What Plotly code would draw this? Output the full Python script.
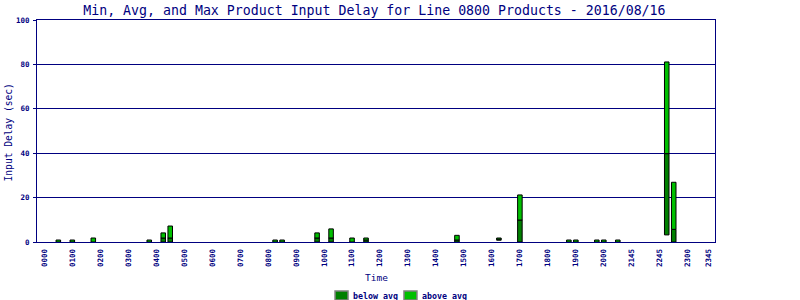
import plotly.graph_objects as go

# slot index (15-minute slots across the day) for each bar
slots = [2, 4, 7, 15, 17, 18, 33, 34, 39, 41, 44, 46, 59, 65, 68, 75, 76, 79, 80, 82, 89, 90]
min_vals = [0, 0, 0, 0, 0, 0, 0, 0, 0, 0, 0, 0, 0, 0.8, 0, 0, 0, 0, 0, 0, 3.2, 0]
avg_vals = [0, 0, 0, 0, 1.8, 1.8, 0, 0, 1.8, 1.8, 0, 0.9, 0.9, 1.3, 9.9, 0, 0, 0, 0, 0, 39.8, 5.7]
max_vals = [0.9, 0.9, 1.8, 0.9, 4.1, 7.2, 0.9, 0.9, 4.1, 5.9, 1.8, 1.8, 3.0, 1.8, 21.2, 0.9, 0.9, 0.9, 0.9, 0.9, 81.1, 26.9]

tick_slots = [0, 4, 8, 12, 16, 20, 24, 28, 32, 36, 40, 44, 48, 52, 56, 60, 64, 68, 72, 76, 80, 84, 88, 92, 95]
tick_labels = ["0000", "0100", "0200", "0300", "0400", "0500", "0600", "0700", "0800", "0900",
               "1000", "1100", "1200", "1300", "1400", "1500", "1600", "1700", "1800", "1900",
               "2000", "2145", "2245", "2300", "2345"]
y_ticks = [0, 20, 40, 60, 80, 100]
series_names = ["below avg", "above avg"]

NAVY = "#000080"
DARK = "#008000"
LIGHT = "#00C000"
MONO = "DejaVu Sans Mono"

below = [a - m for a, m in zip(avg_vals, min_vals)]
above = [mx - a for mx, a in zip(max_vals, avg_vals)]

fig = go.Figure()
fig.add_trace(go.Bar(x=slots, y=below, base=min_vals, width=0.65, name=series_names[0],
                     marker=dict(color=DARK, line=dict(color="black", width=1)),
                     showlegend=False, hoverinfo="skip"))
fig.add_trace(go.Bar(x=slots, y=above, base=avg_vals, width=0.65, name=series_names[1],
                     marker=dict(color=LIGHT, line=dict(color="black", width=1)),
                     showlegend=False, hoverinfo="skip"))

# plot-area pixel geometry -> paper coords helper (for legend layout)
L, R, T, B = 36.7, 715.3, 20, 242
def px(x):
    return (x - L) / (R - L)
def py(y):
    return (B - y) / (B - T)

shapes = []
annotations = [
    dict(text="Time", xref="paper", yref="paper", x=0.5, y=py(277),
         xanchor="center", yanchor="middle", showarrow=False,
         font=dict(family=MONO, size=9.5, color=NAVY)),
    dict(text="Input Delay (sec)", xref="paper", yref="paper", x=px(8),
         y=0.495, xanchor="center", yanchor="middle", textangle=-90, showarrow=False,
         font=dict(family=MONO, size=9.6, color=NAVY)),
]
# legend
legend_x = [335, 404]
for name, col, lx in zip(series_names, [DARK, LIGHT], legend_x):
    shapes.append(dict(type="rect", xref="paper", yref="paper",
                       x0=px(lx), x1=px(lx + 13), y0=py(291), y1=py(300),
                       fillcolor=col, line=dict(color="#808080", width=1.5)))
    annotations.append(dict(text=name, xref="paper", yref="paper", x=px(lx + 16), y=py(295.5),
                            xanchor="left", yanchor="middle", showarrow=False,
                            font=dict(family=MONO, size=8.3, color=NAVY, weight="bold")))

fig.update_layout(
    width=800, height=300,
    margin=dict(l=L, r=800 - R, t=T, b=300 - B, autoexpand=False),
    paper_bgcolor="white", plot_bgcolor="white",
    barmode="overlay", showlegend=False,
    title=dict(text="Min, Avg, and Max Product Input Delay for Line 0800 Products - 2016/08/16",
               font=dict(family=MONO, size=13.25, color=NAVY),
               x=0.468, xanchor="center", y=1 - 10 / 300, yanchor="middle"),
    xaxis=dict(range=[-1.05, 95.9], tickmode="array", tickvals=tick_slots, ticktext=tick_labels,
               tickangle=-90, tickfont=dict(family=MONO, size=7.5, color=NAVY, weight="bold"),
               showgrid=False, zeroline=False, showline=True, linecolor=NAVY, linewidth=1,
               mirror=True, ticks="", ticklabelstandoff=3),
    yaxis=dict(range=[0, 100], tickmode="array", tickvals=y_ticks,
               tickfont=dict(family=MONO, size=7.5, color=NAVY, weight="bold"),
               showgrid=True, gridcolor=NAVY, gridwidth=1, zeroline=False,
               showline=True, linecolor=NAVY, linewidth=1, mirror=True,
               ticks="outside", ticklen=3, tickcolor=NAVY, ticklabelstandoff=2),
    shapes=shapes,
    annotations=annotations,
)

fig.write_html("out.html")
